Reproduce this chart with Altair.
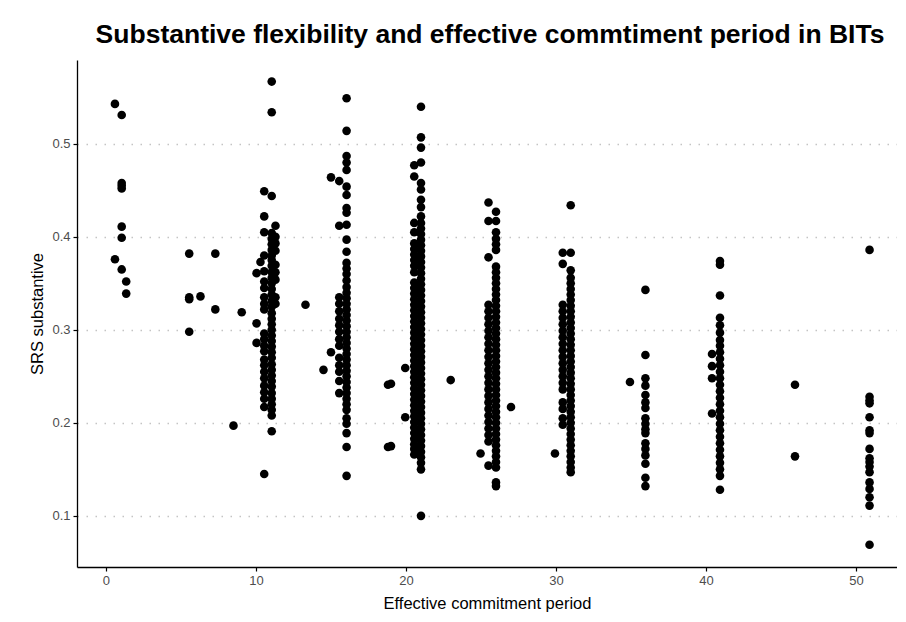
import altair as alt
import pandas as pd

# ---- values (x = effective commitment period, y = SRS substantive)
x_06 = 0.6
y_06 = [0.543, 0.376]
x_10 = 1.05
y_10 = [0.531, 0.458, 0.455, 0.452, 0.411, 0.399, 0.365]
x_13 = 1.35
y_13 = [0.352, 0.339]

out_x = [5.55, 5.55, 5.55, 5.55, 6.3, 7.29, 7.29, 8.5, 9.05, 13.3, 15.0, 15.0, 14.5,
         18.8, 18.8, 19.95, 19.95, 19.0, 19.0, 22.98, 27.0, 24.97, 29.93, 34.93,
         45.93, 45.93, 10.04, 10.04, 10.04, 10.3]
out_y = [0.382, 0.335, 0.333, 0.298, 0.336, 0.382, 0.322, 0.197, 0.319, 0.327, 0.464, 0.276, 0.257,
         0.241, 0.174, 0.259, 0.206, 0.242, 0.175, 0.246, 0.217, 0.167, 0.167, 0.244,
         0.241, 0.164, 0.361, 0.307, 0.286, 0.373]

x_1105 = 11.05
y_1105 = [0.567, 0.534, 0.444, 0.404, 0.398, 0.392, 0.386, 0.380, 0.375, 0.369, 0.362, 0.356,
          0.350, 0.344, 0.338, 0.331, 0.325, 0.318, 0.312, 0.306, 0.300, 0.294, 0.288, 0.282,
          0.276, 0.270, 0.263, 0.257, 0.251, 0.245, 0.239, 0.232, 0.226, 0.220, 0.214, 0.208, 0.191]
x_1055 = 10.55
y_1055 = [0.449, 0.422, 0.405, 0.380, 0.363, 0.352, 0.345, 0.335, 0.328, 0.322, 0.296, 0.290,
          0.283, 0.277, 0.268, 0.262, 0.255, 0.248, 0.240, 0.233, 0.226, 0.217, 0.145]
x_113 = 11.3
y_113 = [0.412, 0.400, 0.393, 0.385, 0.370, 0.362, 0.354, 0.335, 0.328]

x_1604 = 16.04
y_1604 = [0.549, 0.514, 0.487, 0.480, 0.472, 0.454, 0.445, 0.431, 0.426, 0.413, 0.397, 0.384,
          0.372, 0.366, 0.360, 0.353, 0.346, 0.340, 0.334, 0.328, 0.322, 0.316, 0.310, 0.304,
          0.298, 0.292, 0.286, 0.280, 0.274, 0.268, 0.262, 0.256, 0.250, 0.244, 0.238, 0.232,
          0.226, 0.220, 0.214, 0.205, 0.199, 0.189, 0.174, 0.143]
x_1555 = 15.55
y_1555 = [0.460, 0.412, 0.335, 0.328, 0.320, 0.312, 0.305, 0.298, 0.290, 0.283, 0.270, 0.262,
          0.255, 0.245, 0.232]

x_2100 = 21.0
y_2100 = [0.540, 0.507, 0.496, 0.480, 0.458, 0.451, 0.440, 0.432, 0.422, 0.415, 0.409, 0.403,
          0.397, 0.391, 0.385, 0.379, 0.373, 0.367, 0.361, 0.355, 0.349, 0.343, 0.337, 0.331,
          0.325, 0.319, 0.313, 0.307, 0.301, 0.295, 0.289, 0.283, 0.277, 0.271, 0.265, 0.259,
          0.253, 0.247, 0.241, 0.235, 0.229, 0.223, 0.217, 0.211, 0.205, 0.199, 0.193, 0.187,
          0.181, 0.175, 0.169, 0.163, 0.157, 0.150, 0.100]
x_2055 = 20.55
y_2055 = [0.477, 0.465, 0.415, 0.405, 0.393, 0.387, 0.381, 0.375, 0.369, 0.362, 0.351, 0.345,
          0.339, 0.333, 0.327, 0.321, 0.315, 0.309, 0.303, 0.297, 0.291, 0.285, 0.279, 0.273,
          0.267, 0.261, 0.255, 0.249, 0.243, 0.237, 0.231, 0.225, 0.219, 0.213, 0.207, 0.201,
          0.195, 0.189, 0.183, 0.177, 0.172, 0.166]

x_2600 = 26.0
y_2600 = [0.427, 0.417, 0.405, 0.398, 0.392, 0.386, 0.368, 0.362, 0.356, 0.350, 0.344, 0.338,
          0.332, 0.326, 0.320, 0.314, 0.308, 0.302, 0.296, 0.290, 0.284, 0.278, 0.272, 0.266,
          0.260, 0.254, 0.248, 0.242, 0.236, 0.230, 0.224, 0.218, 0.212, 0.206, 0.200, 0.194,
          0.188, 0.182, 0.176, 0.170, 0.164, 0.158, 0.152, 0.136, 0.132]
x_2550 = 25.5
y_2550 = [0.437, 0.417, 0.378, 0.327, 0.320, 0.313, 0.306, 0.299, 0.292, 0.285, 0.278, 0.271,
          0.264, 0.257, 0.250, 0.243, 0.236, 0.229, 0.222, 0.215, 0.208, 0.201, 0.194, 0.187,
          0.180, 0.154]

x_3098 = 30.98
y_3098 = [0.434, 0.383, 0.364, 0.356, 0.350, 0.344, 0.338, 0.332, 0.326, 0.320, 0.314, 0.308,
          0.302, 0.296, 0.290, 0.284, 0.278, 0.272, 0.266, 0.260, 0.254, 0.248, 0.242, 0.236,
          0.230, 0.224, 0.218, 0.212, 0.206, 0.200, 0.194, 0.188, 0.182, 0.176, 0.170, 0.164,
          0.158, 0.152, 0.147]
x_3045 = 30.45
y_3045 = [0.383, 0.371, 0.327, 0.320, 0.313, 0.306, 0.299, 0.292, 0.285, 0.278, 0.271, 0.264,
          0.257, 0.250, 0.243, 0.236, 0.222, 0.215, 0.205, 0.198]

x_3596 = 35.96
y_3596 = [0.343, 0.273, 0.248, 0.240, 0.230, 0.222, 0.216, 0.205, 0.199, 0.193, 0.189, 0.178,
          0.172, 0.165, 0.156, 0.141, 0.132]

x_4093 = 40.93
y_4093 = [0.374, 0.370, 0.337, 0.313, 0.305, 0.297, 0.289, 0.283, 0.276, 0.269, 0.262, 0.255,
          0.248, 0.241, 0.234, 0.227, 0.220, 0.213, 0.206, 0.199, 0.192, 0.185, 0.178, 0.171,
          0.164, 0.157, 0.150, 0.143, 0.128]
x_4040 = 40.4
y_4040 = [0.274, 0.261, 0.248, 0.210]

x_5090 = 50.9
y_5090 = [0.386, 0.228, 0.224, 0.221, 0.206, 0.192, 0.189, 0.172, 0.162, 0.158, 0.153, 0.147,
          0.136, 0.129, 0.120, 0.111, 0.069]

x_ticks = [0, 10, 20, 30, 40, 50]
y_ticks = [0.1, 0.2, 0.3, 0.4, 0.5]

columns = [(x_06, y_06), (x_10, y_10), (x_13, y_13), (x_1105, y_1105), (x_1055, y_1055),
           (x_113, y_113), (x_1604, y_1604), (x_1555, y_1555), (x_2100, y_2100),
           (x_2055, y_2055), (x_2600, y_2600), (x_2550, y_2550), (x_3098, y_3098),
           (x_3045, y_3045), (x_3596, y_3596), (x_4093, y_4093), (x_4040, y_4040),
           (x_5090, y_5090)]

xs, ys = list(out_x), list(out_y)
for cx, cy in columns:
    xs += [cx] * len(cy)
    ys += cy
df = pd.DataFrame({"period": xs, "srs": ys})

FONT = "Liberation Sans"

chart = alt.Chart(df).mark_circle(size=74, color="black", opacity=1).encode(
    x=alt.X("period:Q", title="Effective commitment period",
            scale=alt.Scale(domain=[-1.93, 52.73], nice=False, zero=False),
            axis=alt.Axis(values=x_ticks, grid=False, format="d")),
    y=alt.Y("srs:Q", title="SRS substantive",
            scale=alt.Scale(domain=[0.045, 0.5902], nice=False, zero=False),
            axis=alt.Axis(values=y_ticks, format=".1f", grid=True,
                          gridColor="#c4c4c4", gridDash=[1.5, 7.5], gridWidth=1.3)),
).properties(
    width=820, height=507,
    title=alt.TitleParams("Substantive flexibility and effective commtiment period in BITs",
                          font=FONT, fontSize=26.5, fontWeight="bold", color="black",
                          anchor="middle", dx=3, offset=12),
    autosize=alt.AutoSizeParams(type="none"),
    padding={"left": 69, "top": 52, "right": 0, "bottom": 50},
).configure_view(stroke=None).configure_axis(
    domainColor="black", domainWidth=1.3, tickColor="black", tickSize=4, tickWidth=1.2,
    labelColor="#4d4d4d", labelFontSize=13, labelFont=FONT, labelPadding=3,
    titleFont=FONT, titleFontSize=16.5, titleFontWeight="normal", titleColor="black",
).configure_axisY(titlePadding=6).configure_axisX(titlePadding=8)

chart.save("out.html", embed_options={"renderer": "svg", "actions": False})
